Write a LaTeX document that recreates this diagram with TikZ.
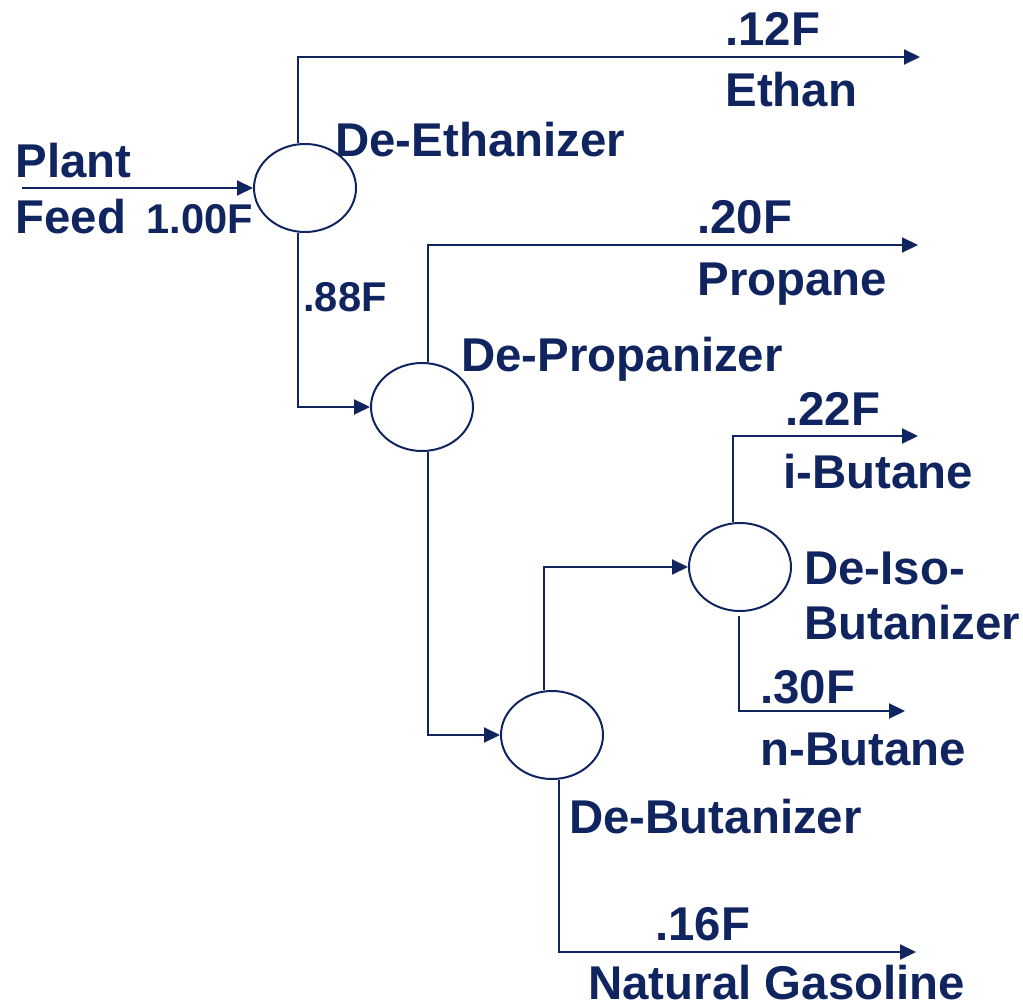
\documentclass[tikz,border=0pt]{standalone}
\usepackage{fontspec}
\setmainfont{Liberation Sans}
\usetikzlibrary{arrows.meta, calc, shapes.geometric}
\definecolor{navycol}{RGB}{16, 36, 96}
\tikzset{
  column/.style = {draw=navycol, line width=1pt, ellipse, minimum width=51pt,
                   minimum height=44pt, inner sep=0pt},
  lbl/.style    = {text=navycol, font=\fontsize{23.7}{28}\selectfont\bfseries,
                   inner sep=0pt, anchor=base west, align=left},
  rate/.style   = {lbl, font=\fontsize{20.8}{24}\selectfont\bfseries},
  flow/.style   = {-{Triangle[length=8pt, width=7.5pt]}, draw=navycol,
                   line width=1pt},
}
\begin{document}
\begin{tikzpicture}[x=0.5pt, y=-0.5pt]
  \useasboundingbox (0,0) rectangle (1023,1005);

  %% ---------------- the four columns ----------------
  \node[column] (deeth)  at (305,188) {};
  \node[column] (deprop) at (422,407) {};
  \node[column] (debut)  at (552,735) {};
  \node[column] (deiso)  at (740,567) {};

  \node[lbl] (deethlbl)  at (335,157) {De-Ethanizer};
  \node[lbl] (deproplbl) at (461,372) {De-Propanizer};
  \node[lbl] (debutlbl)  at (569,833) {De-Butanizer};
  \node[lbl] (deisolbl)  at (804,639) {De-Iso-\\[-0.5pt]Butanizer};

  %% ---------------- feed ----------------
  \coordinate (feedin) at (22,188);
  \node[lbl] (plant) at (15,178) {Plant};
  \node[lbl] (feed)  at (15,234) {Feed};
  \node[rate] (feedrate) at (146,234) {1.00F};
  \draw[flow] (feedin) -- (deeth.west);

  %% ---------------- products ----------------
  \coordinate (ethanout)  at (920,57);
  \coordinate (propout)   at (918,245);
  \coordinate (ibutout)   at (918,436);
  \coordinate (nbutout)   at (905,711);
  \coordinate (gasout)    at (916,952);

  \node[lbl] at (725,46)  {.12F};
  \node[lbl] at (725,107) {Ethan};
  \node[lbl] at (697,234) {.20F};
  \node[lbl] at (697,296) {Propane};
  \node[lbl] at (785,426) {.22F};
  \node[lbl] at (783,488) {i-Butane};
  \node[lbl] at (760,703) {.30F};
  \node[lbl] at (760,765) {n-Butane};
  \node[lbl] at (655,940) {.16F};
  \node[lbl] at (588,999) {Natural Gasoline};
  \node[rate] at (303,312) {.88F};

  %% ---------------- streams ----------------
  \draw[flow] ([xshift=-3.5pt]deeth.north) |- (ethanout);
  \draw[flow] ([xshift=-3.5pt]deeth.south) |- (deprop.west);
  \draw[flow] ([xshift=3pt]deprop.north) |- (propout);
  \draw[flow] ([xshift=3pt]deprop.south) |- (debut.west);
  \draw[flow] ([xshift=-4pt]debut.north) |- (deiso.west);
  \draw[flow] ([xshift=3.5pt]debut.south) |- (gasout);
  \draw[flow] ([xshift=-3.5pt]deiso.north) |- (ibutout);
  \draw[flow] ([xshift=-0.5pt,yshift=-2pt]deiso.south) |- (nbutout);

\end{tikzpicture}
\end{document}
